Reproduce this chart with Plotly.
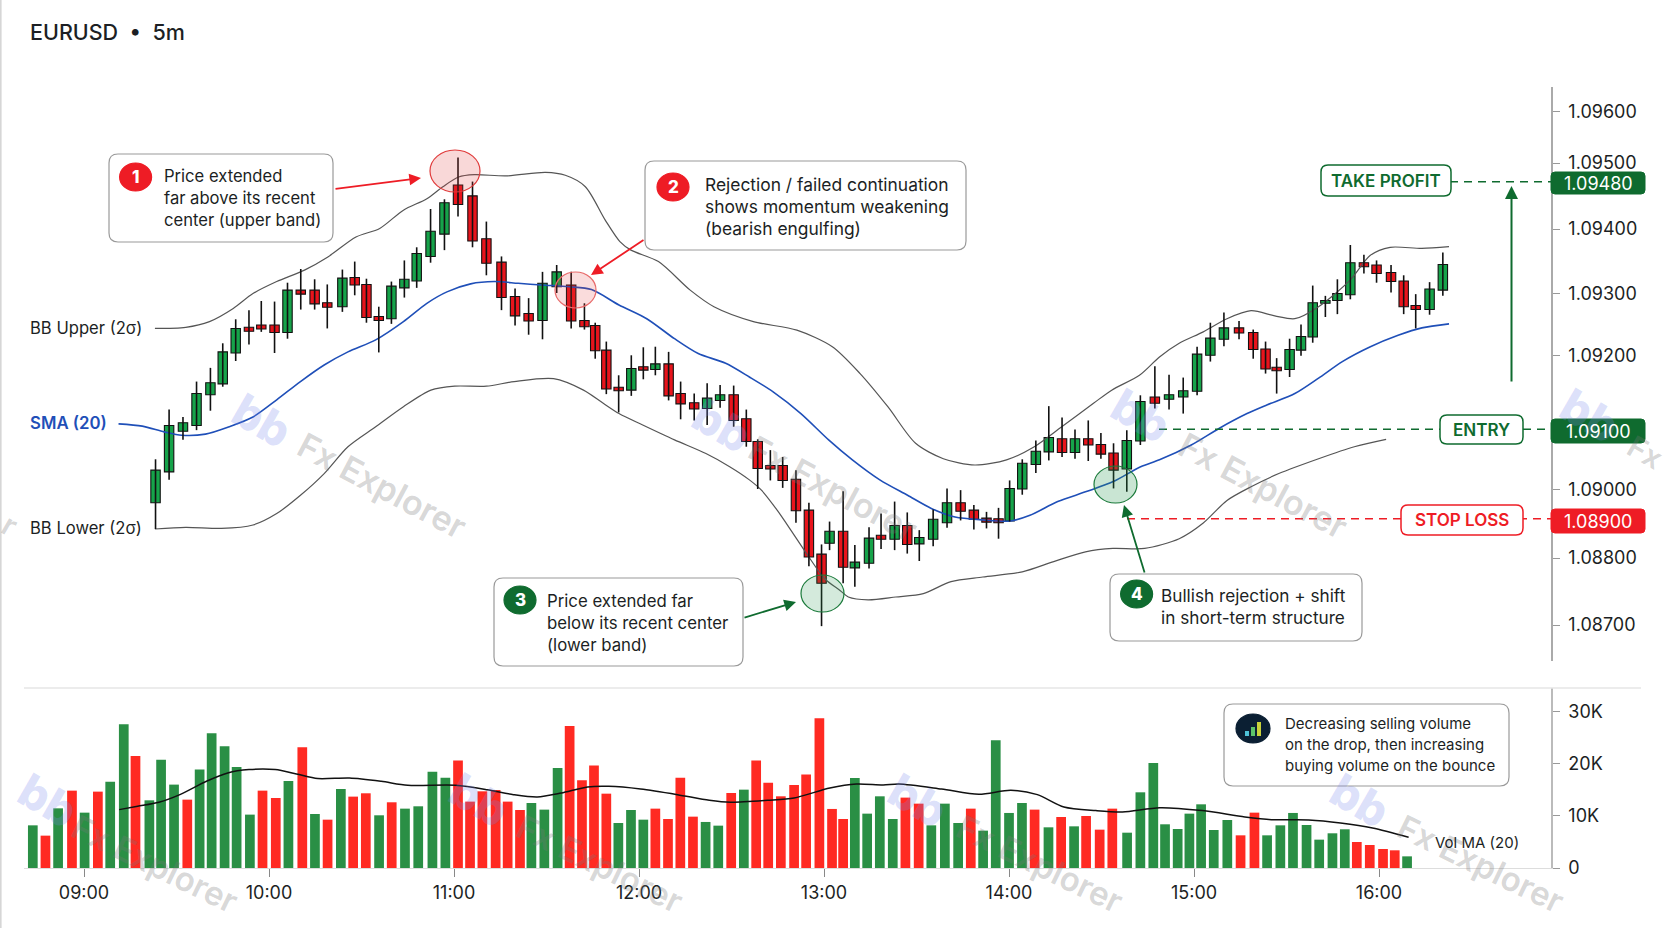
import numpy as np
import plotly.graph_objects as go

# ---- data (prices in 1e-5 units, times in minutes after 09:00) ----
CANDLE_T = [23.2,27.6,32.1,36.5,41.0,45.0,49.2,53.5,57.5,61.8,66.0,70.3,74.8,78.9,83.8,87.8,91.6,95.6,99.7,103.9,
107.9,112.4,116.9,121.3,126.0,130.5,135.4,139.8,144.2,148.7,153.3,158.0,162.3,165.8,169.4,173.4,177.5,181.4,185.3,189.6,
193.5,197.9,202.1,206.3,210.7,214.8,218.5,222.6,226.6,230.9,235.1,239.2,241.8,246.2,250.0,254.6,258.5,262.9,267.0,270.9,
275.4,279.9,284.3,288.6,292.7,296.6,300.2,304.3,308.7,312.9,317.2,321.4,325.7,329.8,333.9,338.2,342.6,347.3,351.9,356.5,
361.0,365.3,369.7,374.6,379.2,383.2,386.8,391.0,394.7,398.5,402.6,406.5,410.7,415.1,419.2,423.9,428.0,431.9,436.4,440.7]
OPEN = [108914,108968,109039,109049,109103,109122,109176,109221,109225,109225,109212,109286,109286,109264,109257,109308,109296,109240,109236,109290,
109302,109345,109384,109470,109451,109376,109335,109275,109245,109233,109292,109295,109233,109224,109181,109116,109111,109152,109147,109157,
109105,109089,109079,109093,109103,109061,109021,108979,108979,108955,108901,108824,108843,108864,108800,108808,108857,108850,108874,108842,
108850,108879,108914,108901,108887,108886,108882,108938,108981,109003,109026,109002,109026,109016,109001,108973,109022,109099,109095,109099,
109109,109172,109200,109220,109212,109183,109151,109147,109181,109204,109263,109268,109278,109334,109330,109317,109302,109259,109252,109286]
HIGH = [108990,109077,109064,109126,109150,109193,109235,109251,109267,109266,109299,109323,109305,109296,109322,109336,109306,109257,109301,109338,
109361,109428,109445,109518,109476,109406,109345,109289,109272,109318,109330,109318,109263,109229,109196,109137,109172,109186,109187,109178,
109126,109105,109123,109120,109119,109077,109025,109006,108994,108971,108914,108841,108881,108934,108840,108871,108895,108916,108897,108866,
108902,108939,108936,108910,108898,108905,108953,108990,109023,109083,109063,109042,109058,109036,109018,109041,109102,109153,109138,109133,
109187,109229,109247,109232,109217,109196,109167,109201,109226,109294,109276,109305,109365,109348,109338,109330,109312,109279,109300,109352]
LOW = [108868,108954,109024,109041,109075,109117,109162,109191,109213,109176,109201,109252,109252,109219,109248,109277,109229,109177,109227,109273,
109290,109334,109356,109415,109361,109312,109251,109224,109208,109200,109281,109219,109217,109166,109104,109072,109101,109130,109137,109093,
109060,109058,109050,109080,109047,109012,108938,108953,108940,108879,108803,108698,108831,108773,108767,108799,108833,108831,108825,108812,
108838,108870,108883,108867,108869,108851,108881,108928,108966,108988,108994,108991,108987,108991,108939,108933,109015,109079,109077,109070,
109102,109161,109188,109200,109166,109140,109105,109134,109171,109194,109239,109244,109270,109315,109299,109282,109244,109219,109243,109276]
CLOSE = [108971,109049,109054,109105,109124,109178,109219,109214,109218,109212,109286,109279,109262,109256,109307,109295,109238,109233,109293,109305,
109350,109389,109439,109436,109372,109333,109273,109241,109232,109298,109318,109232,109222,109180,109113,109110,109149,109146,109157,109101,
109087,109078,109097,109103,109058,109021,108974,108973,108953,108900,108819,108773,108864,108801,108810,108852,108850,108874,108841,108853,
108885,108914,108899,108885,108880,108879,108939,108983,109004,109028,109002,109026,109015,108999,108971,109023,109091,109088,109103,109110,
109174,109202,109220,109211,109182,109148,109145,109182,109205,109264,109268,109280,109334,109327,109315,109301,109257,109252,109288,109331]

UPPER_T = [23.0,33.0,40.7,48.4,54.8,62.5,71.5,79.1,88.2,95.9,103.6,111.2,116.4,121.5,126.6,136.9,149.7,156.1,162.6,169,173.8,177.4,186.3,196.6,204.3,217.1,231.2,242.7,251.7,260.7,269.7,278.7,288.9,299.2,308.2,317.1,327.4,333.3,342.3,348.8,355.2,363,370.7,378.5,386.2,392.7,400.4,410.7,417.2,423.6,433.9,442.7]
UPPER = [109219,109221,109231,109254,109280,109301,109321,109344,109379,109394,109426,109446,109467,109484,109488,109486,109492,109487,109467,109409,109371,109356,109336,109286,109257,109231,109216,109187,109140,109082,109018,108991,108980,108989,109012,109047,109088,109111,109137,109169,109193,109213,109236,109250,109241,109236,109257,109304,109347,109361,109359,109362]
LOWER_T = [23.0,33.0,44.6,54.8,62.5,70.2,77.9,85.6,94.6,103.6,112.5,120.2,130.5,139.5,152.3,162,168.4,173.5,181.2,191.5,201.7,209.4,215.8,219.7,224.8,230,235.1,240.2,245.3,247.9,254.3,263.3,272.2,281.2,291.5,304.3,314.5,324.8,333.7,344,355.2,362.9,370.7,378.5,387.5,400.4,412,422.3]
LOWER = [108868,108871,108869,108875,108895,108927,108965,109012,109047,109082,109111,109118,109118,109126,109131,109111,109088,109070,109050,109024,109000,108977,108954,108936,108901,108860,108819,108781,108760,108749,108744,108749,108755,108776,108784,108793,108811,108828,108834,108834,108851,108878,108918,108942,108965,108991,109012,109025]
SMA_T = [11.2,18.9,26,31.7,39.4,47.1,54.8,62.5,70.2,77.9,85.6,94.6,103.6,111.2,117.7,125.4,133.1,140.8,148.4,157.4,164.6,173.5,182.5,191.5,199.2,208.1,215.8,223.5,232.5,241.5,249.2,258.1,267.1,274.8,282.5,291.5,300.4,306.8,315.8,324.8,333.8,342.7,348.8,359.1,368.1,377.2,383.6,392.7,400.4,408.1,417.2,426.2,433.9,442.7]
SMA = [109052,109048,109038,109032,109034,109047,109064,109094,109126,109155,109178,109199,109231,109263,109283,109297,109301,109298,109295,109292,109287,109260,109236,109201,109175,109158,109134,109108,109070,109024,108989,108954,108927,108904,108889,108884,108882,108892,108916,108933,108951,108977,108989,109015,109044,109070,109085,109105,109132,109161,109187,109207,109220,109227]

VOL_T = [-16.6,-12.5,-8.4,-3.9,0.2,4.5,8.5,12.9,16.7,21.2,25.0,29.2,33.5,37.5,41.4,45.6,49.5,53.8,57.9,62.2,66.3,70.8,74.9,79.0,83.3,87.3,91.4,95.7,99.8,104.1,108.4,113.0,117.2,121.3,125.2,129.2,133.5,137.4,141.4,145.1,149.3,153.6,157.5,161.5,165.4,169.4,173.3,177.4,181.4,185.3,189.4,193.4,197.5,201.6,205.7,209.9,214.0,218.0,221.9,226.0,230.3,234.2,238.5,242.6,
246.2,250.0,254.0,258.1,262.3,266.4,270.7,274.8,279.2,283.5,287.6,291.6,295.7,300.0,304.2,308.3,312.8,316.9,321.1,325.0,329.4,333.5,338.3,342.6,346.8,350.6,354.7,358.5,362.3,366.4,370.8,375.1,379.6,383.7,388.0,392.1,396.5,400.6,404.9,408.9,412.8,417.0,421.3,425.1,429.1]
VOLUME = [8200,6220,11470,14870,10640,14680,16600,27630,21540,13010,20830,16030,13140,18910,25900,23400,19420,10260,14870,13460,16730,23200,10380,9290,15190,13720,14360,10130,12630,11410,11860,18520,17370,20640,12760,14740,15000,12760,11150,12500,11220,19230,27310,16860,19680,14290,8650,11150,9290,11410,9420,17370,9870,8850,8140,14420,15060,20640,16410,13780,15960,17950,28780,11350,
9420,17310,10450,13780,9420,13530,12370,8200,12370,8650,11410,7180,24550,10580,12500,11220,7820,9810,8010,10000,7370,11410,6790,14550,20190,8400,7500,10450,12240,7310,9230,6280,10640,6280,8200,10580,8270,5450,6670,7440,5000,4420,3650,3400,2240]
VOL_SIDE = list("GRGRGRGGRGGGRGGGGGRRGRGRGRRGRGGGGRRRRRRGGGRRRRGGGRRRRGGRGRRRRRRR"
                "RGGGGRRGGGRGGGGRGRGRRRGGGGGGGGGRRGGGGGGGRRRRG")
VMA_T = [11.4,17.4,24.3,31.1,39.7,46.6,53.5,62.0,68.9,75.8,86.1,96.4,105,120.4,130.7,139.3,147,154.8,163.3,170.2,180.5,192.5,202.8,209.7,221.7,230.3,241.9,250.5,259.2,264.3,278.1,290.2,300.6,309.2,317.8,328.2,336.8,348.9,362.7,376.5,385.1,397.2,407.5,417.9,429.6]
VMA = [11220,11860,12630,14100,16670,18270,18910,18910,18080,17180,17310,16670,15900,15900,15060,14100,13650,14420,15580,15700,15190,14100,13010,12630,13010,13460,15380,16150,15960,16150,15190,14170,14940,14100,11730,11030,10770,11600,11030,9810,9290,9230,8650,7690,5900]

TIME_TICKS = [0,60,120,180,240,300,360,420]
TIME_LABELS = ["09:00","10:00","11:00","12:00","13:00","14:00","15:00","16:00"]
# The source's printed price scale is unevenly spaced; each label sits where the picture draws it.
PRICE_TICKS = [109599,109508.5,109393,109280,109171,108937.5,108817,108700]
PRICE_LABELS = ["1.09600","1.09500","1.09400","1.09300","1.09200","1.09000","1.08800","1.08700"]
VOL_TICKS = [0,10000,20000,30000]
VOL_LABELS = ["0","10K","20K","30K"]

W, H = 1664, 928
FONT = "Inter"
INK = "#1c1f24"
GREEN = "#16a34a"; RED = "#ee1c25"; DGREEN = "#0f6b2f"; BLUE = "#1f4fb8"

def px(x): return x / W
def py(y): return 1 - y / H
def price(v): return np.asarray(v, float) / 1e5

shapes, ann = [], []

def rrect(x0, y0, x1, y1, r=8, fill="white", line="#9a9a9a", lw=1.2):
    rx, ry = r / W, r / H
    a, b, c, d = px(x0), px(x1), py(y1), py(y0)
    path = (f"M{a+rx},{c} L{b-rx},{c} Q{b},{c} {b},{c+ry} L{b},{d-ry} Q{b},{d} {b-rx},{d} "
            f"L{a+rx},{d} Q{a},{d} {a},{d-ry} L{a},{c+ry} Q{a},{c} {a+rx},{c} Z")
    shapes.append(dict(type="path", path=path, xref="paper", yref="paper", fillcolor=fill,
                       line=dict(color=line, width=lw), layer="above"))

def ell(x0, y0, x1, y1, fill, line, lw=1.2):
    shapes.append(dict(type="circle", xref="paper", yref="paper", x0=px(x0), x1=px(x1), y0=py(y1), y1=py(y0),
                       fillcolor=fill, line=dict(color=line, width=lw), layer="above"))

def seg(x0, y0, x1, y1, color, lw=1.5, dash="solid"):
    shapes.append(dict(type="line", xref="paper", yref="paper", x0=px(x0), x1=px(x1), y0=py(y0), y1=py(y1),
                       line=dict(color=color, width=lw, dash=dash), layer="above"))

def text(x, y, s, size=16, color=INK, anchor="left", weight=400, angle=0, fam=FONT):
    xx = x - 2 if anchor == "left" else x
    ann.append(dict(xref="paper", yref="paper", x=px(xx), y=py(y), text=s, showarrow=False, xanchor=anchor,
                    yanchor="middle", textangle=angle, font=dict(family=fam, size=size, color=color, weight=weight)))

def arrow(x0, y0, x1, y1, color, w=1.8, head=1.3):
    ann.append(dict(xref="paper", yref="paper", x=px(x1), y=py(y1), ax=x0-x1, ay=y0-y1, axref="pixel", ayref="pixel",
                    text="", showarrow=True, arrowhead=2, arrowsize=head, arrowwidth=w, arrowcolor=color))

# watermarks
WM = "rgba(120,120,120,0.30)"; LOGO = "rgba(120,135,235,0.26)"
for lx, ly, tx, ty in [(262,420,382,485),(722,425,833,488),(1141,415,1263,485)]:
    text(lx, ly, "bb", size=46, color=LOGO, anchor="center", weight=800, angle=30)
    text(tx, ty, "Fx Explorer", size=34, color=WM, anchor="center", weight=600, angle=28)
for lx, ly, tx, ty in [(48,800,155,864),(480,800,600,864),(918,800,1040,864),(1360,800,1481,864)]:
    text(lx, ly, "bb", size=46, color=LOGO, anchor="center", weight=800, angle=30)
    text(tx, ty, "Fx Explorer", size=33, color=WM, anchor="center", weight=600, angle=26)
text(1590, 415, "bb", size=46, color=LOGO, anchor="center", weight=800, angle=30)
text(1645, 452, "Fx", size=30, color=WM, anchor="center", weight=600, angle=30)
text(10, 525, "r", size=30, color=WM, anchor="center", weight=600, angle=30)

# left edge, pane divider
seg(0.8, 0, 0.8, H, "#d6d6d6", 1.6)
seg(24, 688, 1641, 688, "#e6e6e6", 1.4)

# title
text(30, 32, "EURUSD  •  5m", size=21.5, color=INK, weight=500)

# highlight ellipses
ell(430, 150, 480, 192, "rgba(225,60,60,0.20)", "#e03a3a")
ell(555, 272, 596, 308, "rgba(225,60,60,0.18)", "#e86a6a")
ell(801, 575, 844, 612, "rgba(40,150,80,0.20)", "#1a7a3a")
ell(1094, 466, 1137, 503, "rgba(40,150,80,0.25)", "#1a7a3a")

# levels (dashed)
TP_Y, EN_Y, SL_Y = 181.7, 429.3, 518.7
DASH = "8px,6px"
seg(1450, TP_Y, 1551, TP_Y, DGREEN, 1.6, DASH)
seg(1159, EN_Y, 1551, EN_Y, DGREEN, 1.6, DASH)
seg(1127, SL_Y, 1551, SL_Y, RED, 1.6, DASH)

# level boxes
def levelbox(x0, y0, x1, y1, s, col):
    rrect(x0, y0, x1, y1, r=7, line=col, lw=1.5)
    text((x0+x1)/2, (y0+y1)/2, s, size=17, color=col, anchor="center", weight=600)
levelbox(1321, 165, 1451, 196, "TAKE PROFIT", DGREEN)
levelbox(1440, 415, 1523, 444, "ENTRY", DGREEN)
levelbox(1401, 505, 1523, 535, "STOP LOSS", RED)

def badge(y0, y1, s, col):
    rrect(1551, y0, 1645, y1, r=4, fill=col, line=col, lw=1)
    text(1598, (y0+y1)/2, s, size=18, color="white", anchor="center")
badge(172, 194, "1.09480", DGREEN)
badge(419, 443, "1.09100", DGREEN)
badge(509, 533, "1.08900", RED)

# profit arrow
arrow(1511.5, 383, 1511.5, 186, DGREEN, w=2, head=1.3)

# callouts
def callout(box, bc, num, col, tx, lines, ys, fs):
    rrect(*box, r=9)
    ell(bc[0]-16, bc[1]-14, bc[0]+16, bc[1]+14, col, col)
    text(bc[0], bc[1], num, size=17, color="white", anchor="center", weight=800)
    for l, y in zip(lines, ys):
        text(tx, y, l, size=fs)
callout((109,154,333,242), (135.6,177), "1", RED, 164,
        ["Price extended","far above its recent","center (upper band)"], [175.7,198,219.7], 16.6)
callout((645,161,966,250), (673,187), "2", RED, 705,
        ["Rejection / failed continuation","shows momentum weakening","(bearish engulfing)"], [184.7,207,228], 17.4)
callout((494,578,743,666), (520,600), "3", DGREEN, 547,
        ["Price extended far","below its recent center","(lower band)"], [600.6,623,644.5], 16.8)
callout((1110,574,1362,641), (1136.6,594), "4", DGREEN, 1161,
        ["Bullish rejection + shift","in short-term structure"], [595.3,617.6], 17.2)
arrow(334, 189, 421, 178, RED)
arrow(645, 239, 591, 275, RED)
arrow(743, 618, 796, 602, DGREEN)
arrow(1145, 574, 1124, 505, DGREEN)

# volume note
rrect(1224, 704, 1509, 786, r=9)
ell(1236, 714, 1270, 743, "#0b1f33", "#0b1f33")
for x0, ytop, c in [(1245,731,"#4fc3d9"),(1251,727,"#5cc46a"),(1257,722,"#c9d23a")]:
    shapes.append(dict(type="rect", xref="paper", yref="paper", x0=px(x0), x1=px(x0+4), y0=py(736), y1=py(ytop),
                       fillcolor=c, line=dict(width=0), layer="above"))
for l, y in zip(["Decreasing selling volume","on the drop, then increasing","buying volume on the bounce"], [723,744.7,765]):
    text(1285, y, l, size=15)

# series labels
text(30, 327.7, "BB Upper (2σ)", size=16.6)
text(30, 423, "SMA (20)", size=16.8, color=BLUE, weight=600)
text(30, 528, "BB Lower (2σ)", size=16.6)
text(1435, 842, "Vol MA (20)", size=15)

# ---- traces ----
fig = go.Figure()
t = np.array(CANDLE_T)
o, h, l, c = map(price, (OPEN, HIGH, LOW, CLOSE))
for tx, vals, col, lw in [(UPPER_T, UPPER, "#555555", 1.2), (LOWER_T, LOWER, "#555555", 1.2), (SMA_T, SMA, BLUE, 1.6)]:
    fig.add_trace(go.Scatter(x=tx, y=price(vals), mode="lines", line=dict(color=col, width=lw, shape="spline", smoothing=0.8),
                             hoverinfo="skip", xaxis="x", yaxis="y"))
wx, wy = [], []
for ti, hi, lo in zip(t, h, l):
    wx += [ti, ti, None]; wy += [hi, lo, None]
fig.add_trace(go.Scatter(x=wx, y=wy, mode="lines", line=dict(color="#111111", width=1.6), hoverinfo="skip", xaxis="x", yaxis="y"))
fig.add_trace(go.Bar(x=t, base=np.minimum(o, c), y=np.abs(c-o), width=3.05,
                     marker=dict(color=[GREEN if b >= a else "#e8141c" for a, b in zip(o, c)],
                                 line=dict(color="#111111", width=1.1)), hoverinfo="skip", xaxis="x", yaxis="y"))
fig.add_trace(go.Bar(x=VOL_T, y=VOLUME, width=3.15,
                     marker=dict(color=["#2a8f45" if s == "G" else "#ff2a22" for s in VOL_SIDE], line=dict(width=0)),
                     hoverinfo="skip", xaxis="x2", yaxis="y2"))
fig.add_trace(go.Scatter(x=VMA_T, y=VMA, mode="lines", line=dict(color="#111111", width=1.5, shape="spline", smoothing=0.8),
                         hoverinfo="skip", xaxis="x2", yaxis="y2"))

t_rng = [(24-84)*0.32432, (1551-84)*0.32432]
dom_x = [px(24), px(1551)]
tick_font = dict(family=FONT, size=18, color=INK)
fig.update_layout(
    width=W, height=H, margin=dict(l=0, r=0, t=0, b=0, autoexpand=False), autosize=False,
    paper_bgcolor="white", plot_bgcolor="rgba(0,0,0,0)", showlegend=False, barmode="overlay",
    font=dict(family=FONT, color=INK), shapes=shapes, annotations=ann,
    xaxis=dict(domain=dom_x, range=t_rng, visible=False, anchor="y"),
    yaxis=dict(domain=[py(661), py(87)], range=[1.08637, 1.096415], side="right", anchor="x", showgrid=False, zeroline=False,
               showline=True, linecolor="#aaaaaa", linewidth=1.5, ticks="outside", ticklen=7, tickcolor="#999999",
               tickmode="array", tickvals=list(price(PRICE_TICKS)), ticktext=PRICE_LABELS, tickfont=tick_font, ticklabelstandoff=5),
    xaxis2=dict(domain=dom_x, range=t_rng, anchor="y2", showgrid=False, zeroline=False, showline=True, linecolor="#dddddd",
                linewidth=1.2, ticks="outside", ticklen=8, tickcolor="#888888", tickmode="array", tickvals=TIME_TICKS,
                ticktext=TIME_LABELS, tickfont=dict(family=FONT, size=18, color=INK), ticklabelstandoff=0),
    yaxis2=dict(domain=[py(868), py(688)], range=[0, 34600], side="right", anchor="x2", showgrid=False, zeroline=False,
                showline=True, linecolor="#bbbbbb", linewidth=1.5, ticks="outside", ticklen=7, tickcolor="#999999",
                tickmode="array", tickvals=VOL_TICKS, ticktext=VOL_LABELS, tickfont=tick_font, ticklabelstandoff=5),
)

fig.write_html("out.html", config={"displayModeBar": False},
               post_script="document.body.style.margin='0';document.body.style.overflow='hidden';")
